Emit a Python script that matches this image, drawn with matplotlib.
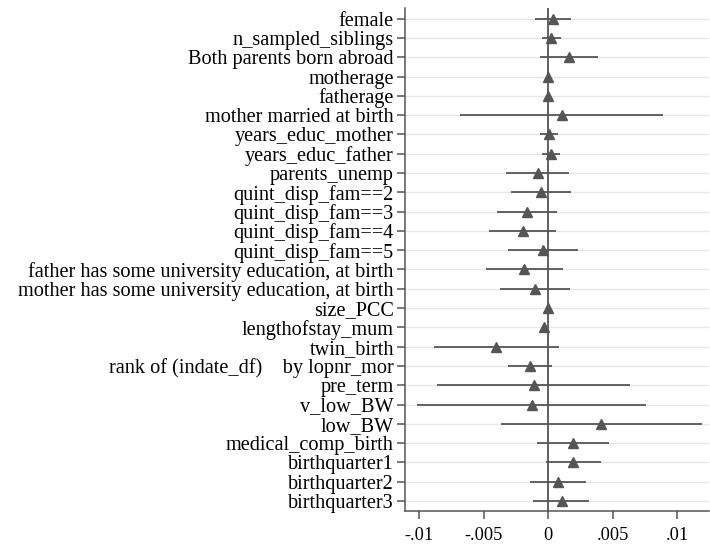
import numpy as np
import matplotlib.pyplot as plt

plt.rcParams['font.family'] = ['Liberation Serif', 'DejaVu Serif']

# Coefficients and 95% confidence intervals
variables = [
    "female", "n_sampled_siblings", "Both parents born abroad", "motherage",
    "fatherage", "mother married at birth", "years_educ_mother",
    "years_educ_father", "parents_unemp", "quint_disp_fam==2",
    "quint_disp_fam==3", "quint_disp_fam==4", "quint_disp_fam==5",
    "father has some university education, at birth",
    "mother has some university education, at birth",
    "size_PCC", "lengthofstay_mum", "twin_birth",
    "rank of (indate_df)    by lopnr_mor", "pre_term", "v_low_BW", "low_BW",
    "medical_comp_birth", "birthquarter1", "birthquarter2", "birthquarter3",
]
coef = [0.00034, 0.00018, 0.0016, 0.0, 0.0, 0.00104, 0.00005, 0.00018,
        -0.00082, -0.00057, -0.00168, -0.00194, -0.00039, -0.00186,
        -0.00103, 0.0, -0.00031, -0.00406, -0.00142, -0.00111, -0.00129,
        0.00406, 0.00194, 0.00194, 0.00073, 0.00104]
ci_low = [-0.00103, -0.00051, -0.00064, -0.00005, -0.00005, -0.00685,
          -0.00064, -0.00046, -0.00328, -0.00289, -0.0040, -0.00458,
          -0.0031, -0.00483, -0.00375, -0.00005, -0.00045, -0.00884,
          -0.00315, -0.00861, -0.01016, -0.00369, -0.00085, -0.0002,
          -0.00142, -0.00116]
ci_high = [0.0018, 0.00099, 0.00383, 0.00005, 0.00005, 0.00892, 0.00078,
           0.00091, 0.0016, 0.00174, 0.00065, 0.00057, 0.00233, 0.00116,
           0.00168, 0.00005, -0.00017, 0.00083, 0.00026, 0.00634, 0.00756,
           0.0119, 0.00473, 0.00406, 0.0029, 0.00318]
xticks = [-0.01, -0.005, 0, 0.005, 0.01]
xticklabels = ["-.01", "-.005", "0", ".005", ".01"]

col = '#555555'
ypos = np.arange(len(variables))

fig = plt.figure(figsize=(7.1, 5.46), dpi=100)
ax = fig.add_axes([0.5704, 0.0647, 0.4282, 0.9206])

for y in ypos:
    ax.axhline(y, color='#e6e6e6', lw=1.0, zorder=0)
ax.axvline(0, color=col, lw=1.3, zorder=1)
ax.hlines(ypos, ci_low, ci_high, color=col, lw=1.3, zorder=2)
ax.plot(coef, ypos, '^', color=col, ms=7.5, zorder=3)

ax.set_xlim(-0.01112, 0.01247)
ax.set_ylim(len(variables) - 0.5, -0.55)
ax.set_yticks(ypos)
ax.set_yticklabels(variables, fontsize=14.6)
ax.set_xticks(xticks)
ax.set_xticklabels(xticklabels, fontsize=13.2)

for side in ['top', 'right']:
    ax.spines[side].set_visible(False)
for side in ['left', 'bottom']:
    ax.spines[side].set_color(col)
    ax.spines[side].set_linewidth(1.1)
ax.tick_params(axis='both', colors=col, labelcolor='black', length=6, width=1.1)
ax.tick_params(axis='y', pad=2)
ax.tick_params(axis='x', pad=6)

fig.savefig('out.png', dpi=100)
